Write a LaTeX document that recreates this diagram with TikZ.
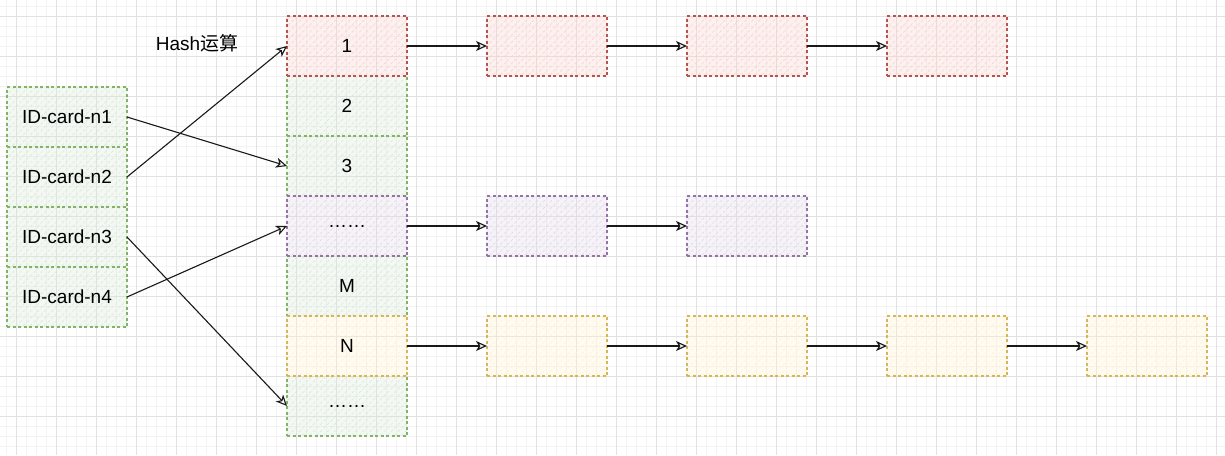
\documentclass[tikz,border=0pt]{standalone}
\usepackage{fontspec}
\setmainfont{Liberation Sans}
\newfontfamily\cjk{Noto Sans CJK SC}
\usetikzlibrary{arrows.meta,patterns.meta}
\definecolor{gstroke}{HTML}{82B366}\definecolor{gfill}{HTML}{D5E8D4}
\definecolor{rstroke}{HTML}{B85450}\definecolor{rfill}{HTML}{F8CECC}
\definecolor{pstroke}{HTML}{9673A6}\definecolor{pfill}{HTML}{E1D5E7}
\definecolor{ystroke}{HTML}{D6B656}\definecolor{yfill}{HTML}{FFF2CC}
\definecolor{minorgrid}{HTML}{F3F3F3}\definecolor{majorgrid}{HTML}{E2E2E2}
\tikzset{
  cell/.style={draw, line width=1.1pt, dash pattern=on 3pt off 2.5pt,
    minimum width=120pt, minimum height=60pt, inner sep=0pt, outer sep=0pt,
    font=\fontsize{19}{22}\selectfont},
  hatchcell/.style n args={2}{cell, draw=#1,
    preaction={fill=#2, fill opacity=0.28},
    pattern={Lines[angle=45,distance=5pt,line width=0.5pt]}, pattern color=#2},
  gcell/.style={hatchcell={gstroke}{gfill}},
  rcell/.style={hatchcell={rstroke}{rfill}},
  pcell/.style={hatchcell={pstroke}{pfill}},
  ycell/.style={hatchcell={ystroke}{yfill}},
  link/.style={draw=black!90, line width=1.4pt, -{Stealth[open,inset=3pt,length=11pt,width=10pt,line width=1.2pt]}},
  hlink/.style={draw=black!90, line width=1.1pt, -{Stealth[open,inset=3pt,length=11pt,width=10pt,line width=1.1pt]}}
}
\begin{document}
\begin{tikzpicture}[x=1pt,y=-1pt]
\useasboundingbox (0,0) rectangle (1225,455);
\fill[white] (0,0) rectangle (1225,455);
% grid
\foreach \i in {0,...,122} {\draw[minorgrid, line width=0.6pt] (6.7+10*\i,0) -- (6.7+10*\i,455);}
\foreach \i in {0,...,45} {\draw[minorgrid, line width=0.6pt] (0,6.7+10*\i) -- (1225,6.7+10*\i);}
\foreach \i in {0,...,30} {\draw[majorgrid, line width=0.8pt] (16.7+40*\i,0) -- (16.7+40*\i,455);}
\foreach \i in {0,...,11} {\draw[majorgrid, line width=0.8pt] (0,16.7+40*\i) -- (1225,16.7+40*\i);}

% left column
\node[gcell] (n1) at (67,117) {ID-card-n1};
\node[gcell] (n2) at (67,177) {ID-card-n2};
\node[gcell] (n3) at (67,237) {ID-card-n3};
\node[gcell] (n4) at (67,297) {ID-card-n4};

% hash table column
\node[gcell] (b2) at (347,106) {2};
\node[gcell] (b3) at (347,166) {3};
\node[gcell] (bM) at (347,286) {M};
\node[gcell] (bL) at (347,406) {……};
\node[rcell] (b1) at (347,46) {1};
\node[pcell] (bD) at (347,226) {……};
\node[ycell] (bN) at (347,346) {N};

% chains
\node[rcell] (r1) at (547,46) {};
\node[rcell] (r2) at (747,46) {};
\node[rcell] (r3) at (947,46) {};
\node[pcell] (p1) at (547,226) {};
\node[pcell] (p2) at (747,226) {};
\node[ycell] (y1) at (547,346) {};
\node[ycell] (y2) at (747,346) {};
\node[ycell] (y3) at (947,346) {};
\node[ycell] (y4) at (1147,346) {};

\node[font=\fontsize{19}{22}\selectfont, inner sep=0pt] (hash) at (197,43) {Hash{\cjk 运算}};

% chain arrows
\draw[link] (b1.east) -- (r1.west);
\draw[link] (r1.east) -- (r2.west);
\draw[link] (r2.east) -- (r3.west);
\draw[link] (bD.east) -- (p1.west);
\draw[link] (p1.east) -- (p2.west);
\draw[link] (bN.east) -- (y1.west);
\draw[link] (y1.east) -- (y2.west);
\draw[link] (y2.east) -- (y3.west);
\draw[link] (y3.east) -- (y4.west);

% hash arrows
\draw[hlink] (n1.east) -- (b3.west);
\draw[hlink] (n2.east) -- (b1.west);
\draw[hlink] (n4.east) -- (bD.west);
\draw[hlink] (n3.east) -- (bL.west);
\end{tikzpicture}
\end{document}
